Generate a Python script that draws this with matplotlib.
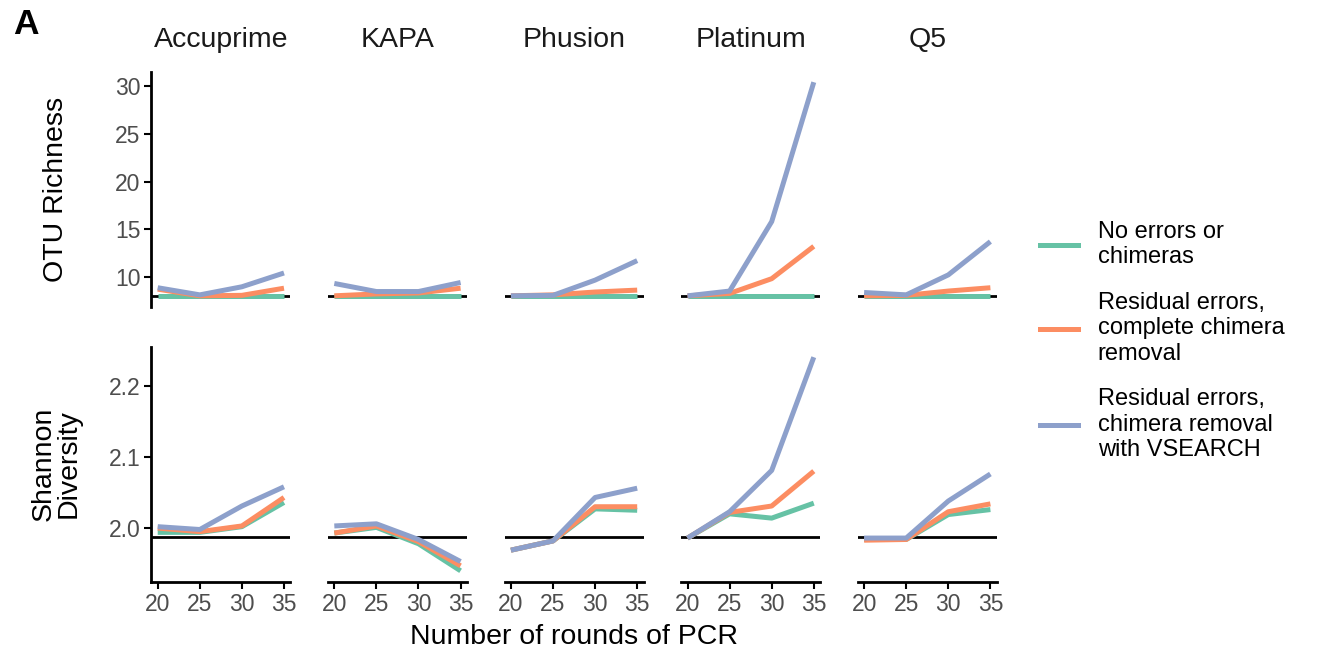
import matplotlib
matplotlib.use("Agg")
import matplotlib.pyplot as plt

# ============================================================
# data
# ============================================================
rounds = [20, 25, 30, 35]
polymerases = ["Accuprime", "KAPA", "Phusion", "Platinum", "Q5"]
series_labels = [
    "No errors or\nchimeras",
    "Residual errors,\ncomplete chimera\nremoval",
    "Residual errors,\nchimera removal\nwith VSEARCH",
]
colors = ["#66C2A5", "#FC8D62", "#8DA0CB"]

true_richness = 8
true_shannon = 1.987

# OTU richness, one list per polymerase
rich_none = {
    "Accuprime": [8, 8, 8, 8],
    "KAPA": [8, 8, 8, 8],
    "Phusion": [8, 8, 8, 8],
    "Platinum": [8, 8, 8, 8],
    "Q5": [8, 8, 8, 8],
}
rich_complete = {
    "Accuprime": [8.7, 8.0, 8.05, 8.8],
    "KAPA": [8.0, 8.2, 8.3, 8.8],
    "Phusion": [8.0, 8.1, 8.4, 8.6],
    "Platinum": [8.0, 8.25, 9.8, 13.2],
    "Q5": [8.0, 8.05, 8.5, 8.85],
}
rich_vsearch = {
    "Accuprime": [8.85, 8.1, 8.95, 10.4],
    "KAPA": [9.3, 8.45, 8.45, 9.4],
    "Phusion": [8.0, 8.05, 9.65, 11.7],
    "Platinum": [8.0, 8.5, 15.8, 30.45],
    "Q5": [8.35, 8.1, 10.2, 13.7],
}

# Shannon diversity
shan_none = {
    "Accuprime": [1.994, 1.994, 2.002, 2.036],
    "KAPA": [1.993, 2.001, 1.978, 1.940],
    "Phusion": [1.969, 1.982, 2.027, 2.025],
    "Platinum": [1.986, 2.020, 2.014, 2.035],
    "Q5": [1.984, 1.984, 2.019, 2.026],
}
shan_complete = {
    "Accuprime": [2.000, 1.995, 2.003, 2.043],
    "KAPA": [1.993, 2.003, 1.981, 1.947],
    "Phusion": [1.969, 1.982, 2.030, 2.030],
    "Platinum": [1.986, 2.022, 2.031, 2.080],
    "Q5": [1.983, 1.984, 2.023, 2.034],
}
shan_vsearch = {
    "Accuprime": [2.002, 1.998, 2.031, 2.058],
    "KAPA": [2.003, 2.006, 1.984, 1.953],
    "Phusion": [1.969, 1.982, 2.043, 2.056],
    "Platinum": [1.986, 2.023, 2.081, 2.240],
    "Q5": [1.986, 1.986, 2.038, 2.076],
}

# ============================================================
# figure
# ============================================================
plt.rcParams["font.family"] = ["Liberation Sans", "DejaVu Sans"]

W, H = 1317, 653
fig = plt.figure(figsize=(W / 100, H / 100), dpi=100)

panel_left = 151.4
panel_w = 138.9
panel_step = 176.6
row_tops = [71.5, 346.5]
panel_h = 235

rows = [
    (rich_none, rich_complete, rich_vsearch, true_richness, "OTU Richness", [10, 15, 20, 25, 30]),
    (shan_none, shan_complete, shan_vsearch, true_shannon, "Shannon\nDiversity", [2.0, 2.1, 2.2]),
]

lw = 3.6
for r, (d0, d1, d2, ref, ylabel, yticks) in enumerate(rows):
    first = None
    for c, name in enumerate(polymerases):
        x0 = panel_left + c * panel_step
        rect = [x0 / W, 1 - (row_tops[r] + panel_h) / H, panel_w / W, panel_h / H]
        ax = fig.add_axes(rect, sharey=first)
        if first is None:
            first = ax

        ax.axhline(ref, color="black", lw=2, zorder=1)
        for data, col in zip([d0, d1, d2], colors):
            ax.plot(rounds, data[name], color=col, lw=lw, solid_capstyle="butt", zorder=2)

        ax.margins(x=0.05, y=0.05)
        ax.set_xticks(rounds)
        ax.set_yticks(yticks)
        for s in ["top", "right"]:
            ax.spines[s].set_visible(False)
        for s in ["left", "bottom"]:
            ax.spines[s].set_linewidth(2)
        ax.tick_params(length=5, width=1.5, pad=3, labelsize=16.5, labelcolor="#4D4D4D")

        if r == 0:
            ax.set_title(name, fontsize=20.5, color="#1A1A1A", pad=17.5)
            ax.spines["bottom"].set_visible(False)
            ax.tick_params(axis="x", bottom=False, labelbottom=False)
        if c > 0:
            ax.spines["left"].set_visible(False)
            ax.tick_params(axis="y", left=False, labelleft=False)
        else:
            ax.set_ylabel(ylabel, fontsize=20.5, linespacing=0.95, va="center")
            ax.yaxis.set_label_coords((56 - x0) / panel_w, 0.5)

fig.text(574 / W, 1 - 637 / H, "Number of rounds of PCR", ha="center", va="center", fontsize=20.5)
fig.text(13 / W, 1 - 25 / H, "A", ha="left", va="center", fontsize=25.5, fontweight="bold")

handles = [plt.Line2D([], [], color=col, lw=lw) for col in colors]
fig.legend(
    handles, series_labels,
    loc="center left", bbox_to_anchor=(1040 / W, 1 - 341 / H),
    frameon=False, fontsize=17, handlelength=1.6, handletextpad=0.85,
    labelspacing=1.0, borderpad=0, borderaxespad=0,
)

fig.savefig("out.png", dpi=100)
